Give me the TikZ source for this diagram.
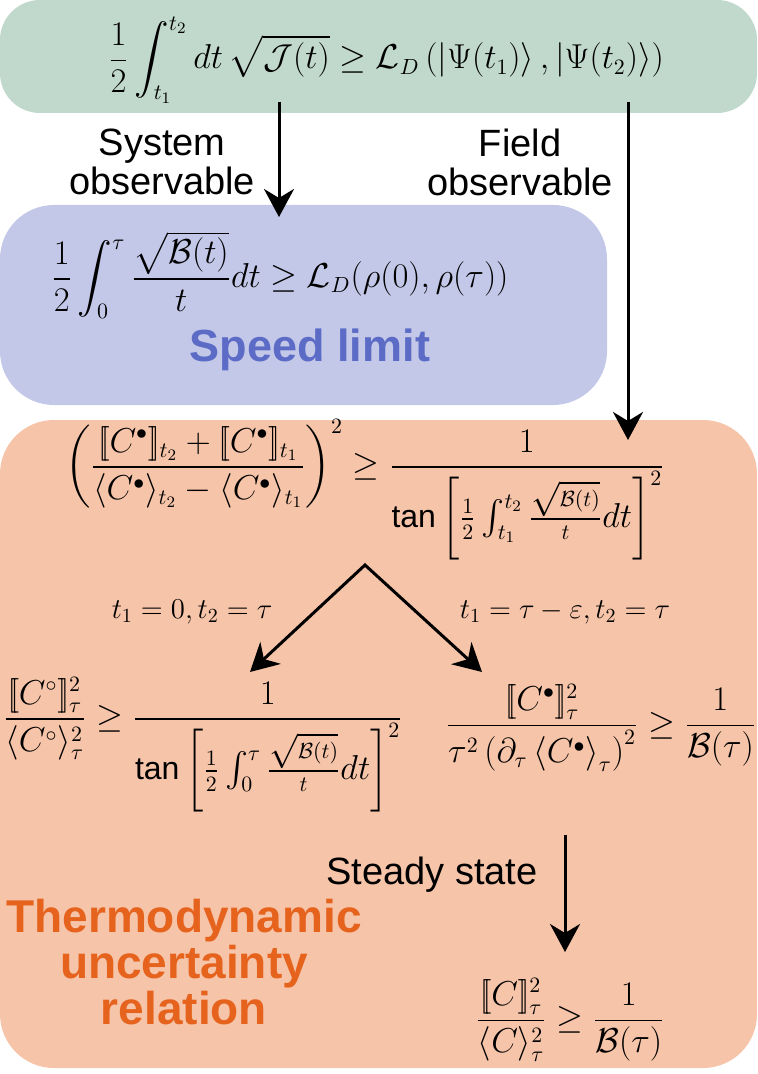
\documentclass[tikz,border=0pt]{standalone}
\usepackage{amsmath}
\usepackage{fontspec}
\setmainfont{Liberation Sans}
\usetikzlibrary{arrows.meta}
\definecolor{sage}{HTML}{C1D8CD}
\definecolor{lavender}{HTML}{C3C8E8}
\definecolor{peach}{HTML}{F6C4A8}
\definecolor{slblue}{HTML}{5B6BC6}
\definecolor{turorange}{HTML}{E6631E}
\newcommand{\dlb}{[\![}
\newcommand{\drb}{]\!]}

\begin{document}
\begin{tikzpicture}[x=0.5pt, y=-0.5pt,
  box/.style={rounded corners=27pt, inner sep=0pt},
  eq/.style={font=\fontsize{16}{19}\selectfont, inner sep=0pt},
  cond/.style={font=\fontsize{14}{17}\selectfont, inner sep=0pt},
  lbl/.style={font=\fontsize{19}{19.5}\selectfont, align=center, inner sep=0pt},
  title/.style={font=\fontsize{23}{23}\selectfont\bfseries, align=center, inner sep=0pt},
  arr/.style={line width=1.5pt, -{Stealth[length=14pt, width=15pt, inset=4.5pt]}},
]
\useasboundingbox (0,0) rectangle (757,1074);

% coloured panels
\node[box, rounded corners=20pt, fill=sage, minimum width=378.5pt, minimum height=56.5pt] (fishbox) at (378.5,56.5) {};
\node[box, fill=lavender, minimum width=303.5pt, minimum height=100pt] (slbox) at (303.5,305) {};
\node[box, fill=peach, minimum width=378.5pt, minimum height=324pt] (turbox) at (378.5,744) {};

% top bound
\node[eq] (fisher) at (386,60) {$\displaystyle \frac{1}{2}\int_{t_1}^{t_2} dt\,\sqrt{\mathcal{J}(t)} \geq \mathcal{L}_D\left(\left|\Psi(t_1)\right\rangle,\left|\Psi(t_2)\right\rangle\right)$};

% speed limit
\node[eq] (speed) at (280,275) {$\displaystyle \frac{1}{2}\int_0^{\tau} \frac{\sqrt{\mathcal{B}(t)}}{t}dt \geq \mathcal{L}_D(\rho(0),\rho(\tau))$};
\node[title, font=\fontsize{22.5}{24}\selectfont\bfseries, text=slblue] (sltitle) at (310,350) {Speed limit};

% observables
\node[lbl] (sysobs) at (162,162) {System\\observable};
\node[lbl] (fldobs) at (520,162) {Field\\observable};
\coordinate (sysA) at (279,102);
\coordinate (sysB) at (279,217);
\coordinate (fldA) at (628,102);
\coordinate (fldB) at (628,440);
\draw[arr] (sysA) -- (sysB);
\draw[arr] (fldA) -- (fldB);

% general TUR
\node[eq] (general) at (365,490) {$\displaystyle \left(\frac{\dlb C^{\bullet}\drb_{t_2}+\dlb C^{\bullet}\drb_{t_1}}{\langle C^{\bullet}\rangle_{t_2}-\langle C^{\bullet}\rangle_{t_1}}\right)^2 \geq \frac{1}{\tan\left[\frac{1}{2}\int_{t_1}^{t_2}\frac{\sqrt{\mathcal{B}(t)}}{t}dt\right]^2}$};
\coordinate (apex) at (365,565);
\coordinate (leftTip) at (250,672);
\coordinate (rightTip) at (482,672);
\draw[line width=1.5pt, {Stealth[length=14pt, width=15pt, inset=4.5pt]}-{Stealth[length=14pt, width=15pt, inset=4.5pt]}] (leftTip) -- (apex) -- (rightTip);
\node[cond] (caseA) at (192,612) {$t_1 = 0, t_2 = \tau$};
\node[cond] (caseB) at (565,612) {$t_1 = \tau-\varepsilon, t_2 = \tau$};

% special cases
\node[eq] (finite) at (203,745) {$\displaystyle \frac{\dlb C^{\circ}\drb_{\tau}^2}{\langle C^{\circ}\rangle_{\tau}^2} \geq \frac{1}{\tan\left[\frac{1}{2}\int_0^{\tau}\frac{\sqrt{\mathcal{B}(t)}}{t}dt\right]^2}$};
\node[eq] (instant) at (601,728) {$\displaystyle \frac{\dlb C^{\bullet}\drb_{\tau}^2}{\tau^2\left(\partial_{\tau}\left\langle C^{\bullet}\right\rangle_{\tau}\right)^2} \geq \frac{1}{\mathcal{B}(\tau)}$};

% steady state
\coordinate (ssA) at (565,835);
\coordinate (ssB) at (565,952);
\draw[arr] (ssA) -- (ssB);
\node[lbl] (steady) at (432,875) {Steady state};
\node[eq] (steadytur) at (570,1020) {$\displaystyle \frac{\dlb C\drb_{\tau}^2}{\langle C\rangle_{\tau}^2} \geq \frac{1}{\mathcal{B}(\tau)}$};
\node[title, text=turorange] (turtitle) at (184,962) {Thermodynamic\\uncertainty\\relation};
\end{tikzpicture}
\end{document}
